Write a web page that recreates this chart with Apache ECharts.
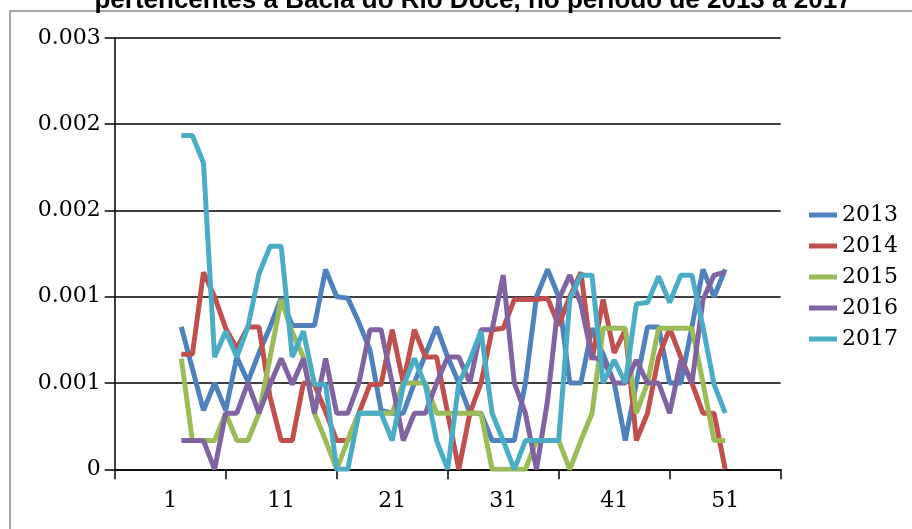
<!DOCTYPE html>
<html>
<head>
<meta charset="utf-8">
<script src="https://cdn.jsdelivr.net/npm/echarts@6/dist/echarts.min.js"></script>
<style>
  html, body { margin: 0; padding: 0; background: #fff; }
  #chart { width: 912px; height: 529px; }
</style>
</head>
<body>
<div id="chart"></div>
<script>
// Epidemiological weeks plotted (2..51)
const semanas = Array.from({ length: 50 }, (_, i) => i + 2);

const anos = ['2013', '2014', '2015', '2016', '2017'];
const cores = ['#4F81BD', '#C0504D', '#9BBB59', '#8064A2', '#4BACC6'];

const taxa2013 = [0.00099,0.00070,0.00041,0.00060,0.00041,0.00078,0.00061,0.00081,0.00099,0.00119,0.00100,0.00100,0.00100,0.00139,0.00120,0.00119,0.00102,0.00083,0.00041,0.00039,0.00039,0.00060,0.00080,0.00099,0.00078,0.00060,0.00039,0.00039,0.00020,0.00020,0.00020,0.00060,0.00120,0.00139,0.00120,0.00060,0.00060,0.00098,0.00080,0.00060,0.00020,0.00060,0.00099,0.00099,0.00060,0.00060,0.00099,0.00139,0.00120,0.00139];
const taxa2014 = [0.00080,0.00080,0.00137,0.00120,0.00098,0.00084,0.00099,0.00099,0.00050,0.00020,0.00020,0.00060,0.00059,0.00040,0.00020,0.00020,0.00039,0.00059,0.00059,0.00097,0.00060,0.00097,0.00078,0.00078,0.00039,0,0.00039,0.00060,0.00097,0.00098,0.00118,0.00118,0.00118,0.00119,0.00100,0.00120,0.00137,0.00076,0.00118,0.00081,0.00097,0.00020,0.00039,0.00078,0.00098,0.00078,0.00060,0.00039,0.00039,0];
const taxa2015 = [0.00077,0.00020,0.00020,0.00020,0.00039,0.00020,0.00020,0.00039,0.00078,0.00118,0.00095,0.00078,0.00039,0.00020,0,0.00020,0.00039,0.00039,0.00039,0.00039,0.00060,0.00060,0.00060,0.00039,0.00039,0.00039,0.00039,0.00039,0,0,0,0,0.00020,0.00020,0.00020,0,0.00020,0.00039,0.00098,0.00098,0.00098,0.00039,0.00060,0.00098,0.00098,0.00098,0.00098,0.00060,0.00020,0.00020];
const taxa2016 = [0.00020,0.00020,0.00020,0,0.00039,0.00039,0.00060,0.00039,0.00059,0.00077,0.00059,0.00077,0.00039,0.00077,0.00039,0.00039,0.00060,0.00097,0.00097,0.00060,0.00020,0.00039,0.00039,0.00060,0.00078,0.00078,0.00060,0.00097,0.00097,0.00135,0.00060,0.00039,0,0.00048,0.00118,0.00135,0.00115,0.00078,0.00076,0.00060,0.00060,0.00076,0.00060,0.00060,0.00039,0.00076,0.00060,0.00118,0.00135,0.00137];
const taxa2017 = [0.00232,0.00232,0.00213,0.00078,0.00096,0.00078,0.00099,0.00136,0.00155,0.00155,0.00078,0.00096,0.00059,0.00059,0,0,0.00039,0.00039,0.00039,0.00020,0.00058,0.00077,0.00058,0.00020,0,0.00060,0.00076,0.00096,0.00039,0.00020,0,0.00020,0.00020,0.00020,0.00020,0.00118,0.00135,0.00135,0.00060,0.00076,0.00060,0.00115,0.00116,0.00134,0.00116,0.00135,0.00135,0.00099,0.00059,0.00039];

const series = [taxa2013, taxa2014, taxa2015, taxa2016, taxa2017];

// Axis marks
const xTickMarks = [-4, 6, 16, 26, 36, 46, 56];
const xLabelWeeks = [1, 11, 21, 31, 41, 51];

const tituloTexto = 'pertencentes à Bacia do Rio Doce, no período de 2013 a 2017';

const serifFont = "'DejaVu Serif', 'Liberation Serif', serif";

const chart = echarts.init(document.getElementById('chart'), null, { renderer: 'canvas' });

chart.setOption({
  backgroundColor: '#ffffff',
  animation: false,
  color: cores,
  graphic: [{
    type: 'rect',
    shape: { x: 10, y: 11, width: 1000, height: 1000 },
    style: { fill: 'none', stroke: '#8a8a8a', lineWidth: 1.5 },
    silent: true,
    z: -1
  }, {
    // Title sits partly above the canvas edge
    type: 'text',
    x: 473,
    y: 14,
    style: {
      text: tituloTexto,
      align: 'center',
      verticalAlign: 'bottom',
      font: "bold 26px 'Liberation Sans', Arial, sans-serif",
      fill: '#000'
    },
    silent: true
  }],
  grid: {
    left: 114.7,
    right: 131.3,
    top: 37.8,
    bottom: 59.7,
    containLabel: false
  },
  legend: {
    orient: 'vertical',
    left: 804,
    top: 199,
    icon: 'rect',
    itemWidth: 28,
    itemHeight: 5,
    itemGap: 9,
    data: anos,
    textStyle: { fontFamily: serifFont, fontSize: 22, color: '#000' }
  },
  xAxis: {
    type: 'value',
    min: -4,
    max: 56,
    axisLine: { show: true, onZero: false, lineStyle: { color: '#000', width: 1.5 } },
    axisTick: {
      show: true,
      inside: false,
      length: 10,
      customValues: xTickMarks,
      lineStyle: { color: '#000', width: 1.5 }
    },
    axisLabel: {
      customValues: xLabelWeeks,
      margin: 21,
      fontFamily: serifFont,
      fontSize: 22,
      color: '#000',
      formatter: v => String(v)
    },
    splitLine: { show: false }
  },
  yAxis: {
    type: 'value',
    min: 0,
    max: 0.003,
    interval: 0.0006,
    axisLine: { show: true, onZero: false, lineStyle: { color: '#000', width: 1.5 } },
    axisTick: { show: true, length: 10, lineStyle: { color: '#000', width: 1.5 } },
    splitLine: { show: true, lineStyle: { color: '#000', width: 1.5 } },
    axisLabel: {
      margin: 14,
      fontFamily: serifFont,
      fontSize: 22,
      color: '#000',
      formatter: v => (v === 0 ? '0' : v.toFixed(3))
    }
  },
  series: anos.map((ano, k) => ({
    name: ano,
    type: 'line',
    data: semanas.map((s, i) => [s, series[k][i]]),
    showSymbol: false,
    symbol: 'none',
    lineStyle: { width: 5, color: cores[k] },
    itemStyle: { color: cores[k] },
    emphasis: { disabled: true }
  }))
});
</script>
</body>
</html>
